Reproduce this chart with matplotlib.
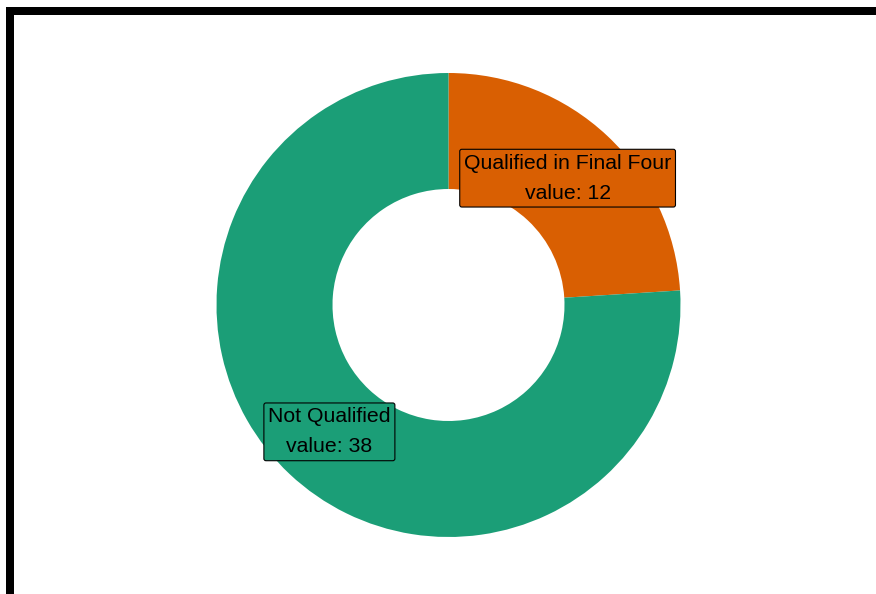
import numpy as np
import matplotlib
matplotlib.use("Agg")
import matplotlib.pyplot as plt
from matplotlib.patches import Rectangle

labels = ["Qualified in Final Four", "Not Qualified"]
values = [12, 38]
colors = ["#d95f02", "#1b9e77"]

W, H, DPI = 876, 594, 100
fig = plt.figure(figsize=(W / DPI, H / DPI), dpi=DPI)
fig.patch.set_facecolor("white")

# donut axes: centre at (448, 305) px, outer radius 232 px
cx, cy, r = 448.5, 305, 232
ax = fig.add_axes([(cx - r) / W, (H - cy - r) / H, 2 * r / W, 2 * r / H])

wedges, _ = ax.pie(values, colors=colors, startangle=90, counterclock=False,
                   radius=1, wedgeprops=dict(width=0.5, linewidth=0))
ax.set_xlim(-1, 1)
ax.set_ylim(-1, 1)
ax.set_aspect("equal")
ax.axis("off")

# boxed labels at the middle of each ring segment
for w, lab, val, col in zip(wedges, labels, values, colors):
    mid = np.deg2rad((w.theta1 + w.theta2) / 2)
    x, y = 0.75 * np.cos(mid), 0.75 * np.sin(mid)
    ax.text(x, y, f"{lab}\nvalue: {val}", ha="center", va="center",
            multialignment="center", fontsize=15.3, family="Liberation Sans",
            linespacing=1.75, color="black",
            bbox=dict(boxstyle="round,pad=0.2,rounding_size=0.1",
                      facecolor=col, edgecolor="black", linewidth=0.8))

# thick frame running off the right and bottom edges
lw_px = 8
fig.patches.append(Rectangle((10 / W, -0.2), 1.5, (H - 11) / H + 0.2,
                             transform=fig.transFigure, fill=False,
                             edgecolor="black", linewidth=lw_px * 72 / DPI))

fig.savefig("out.png", dpi=DPI)
